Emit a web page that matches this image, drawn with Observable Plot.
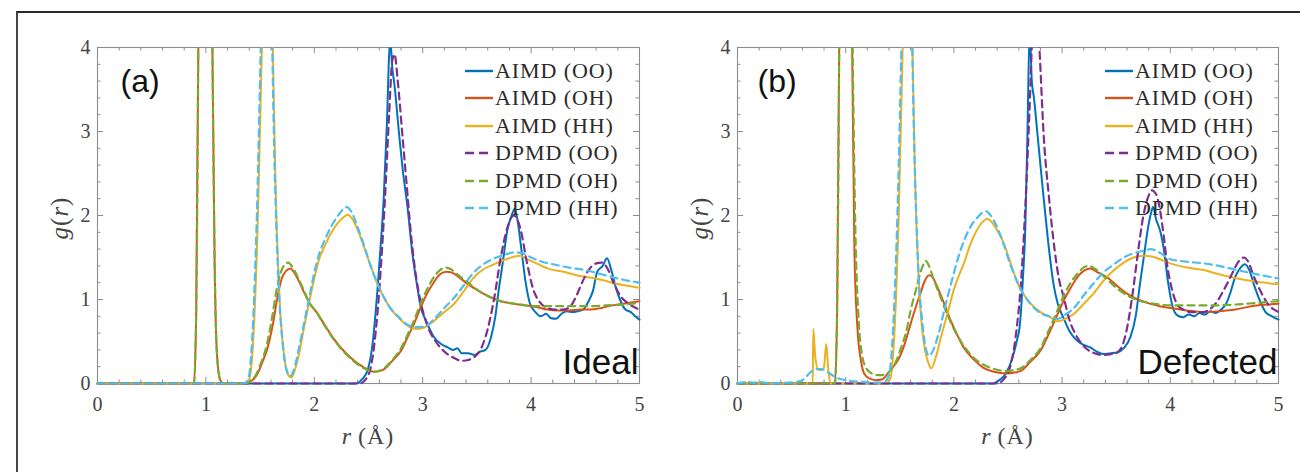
<!DOCTYPE html>
<html><head><meta charset="utf-8">
<script src="https://cdn.jsdelivr.net/npm/d3@7"></script>
<script src="https://cdn.jsdelivr.net/npm/@observablehq/plot@0.6"></script>
<style>
body{margin:0;background:#fff;}
#wrap{position:relative;width:1300px;height:472px;overflow:hidden;background:#fff;}
.border{position:absolute;left:16px;top:11px;width:1400px;height:600px;border-top:2px solid #2a2a2a;border-left:2px solid #454545;}
.panel{position:absolute;top:0;}
.legend{position:absolute;font-family:"Liberation Serif",serif;font-size:22px;color:#2a2a2a;letter-spacing:0.9px;}
.legend .row{position:absolute;left:0;white-space:nowrap;height:28px;display:flex;align-items:center;}
.legend svg{margin-right:2px;}
.xlab{position:absolute;font-family:"Liberation Serif",serif;font-size:24px;color:#444;letter-spacing:1px;transform:translate(-50%,0);white-space:nowrap;}
.ylab{position:absolute;font-family:"Liberation Serif",serif;font-size:25px;color:#444;letter-spacing:1px;transform:translate(-50%,-50%) rotate(-90deg);white-space:nowrap;}
</style>
</head><body>
<div id="wrap"><div class="border"></div></div>
<script>
// ---- ticks ----
const xMajor = [0, 1, 2, 3, 4, 5];
const yMajor = [0, 1, 2, 3, 4];
const xMinor = [0.2,0.4,0.6,0.8,1.2,1.4,1.6,1.8,2.2,2.4,2.6,2.8,3.2,3.4,3.6,3.8,4.2,4.4,4.6,4.8];
const yMinor = [0.2,0.4,0.6,0.8,1.2,1.4,1.6,1.8,2.2,2.4,2.6,2.8,3.2,3.4,3.6,3.8];

// ---- series meta ----
const seriesNames  = ["AIMD (OO)","AIMD (OH)","AIMD (HH)","DPMD (OO)","DPMD (OH)","DPMD (HH)"];
const seriesColors = ["#0072BD","#D95319","#EDB120","#7E2F8E","#77AC30","#4DBEEE"];
const seriesDash   = [null,null,null,"7,5","7,5","7,5"];
const panelLabels  = ["(a)","(b)"];
const panelTags    = ["Ideal","Defected"];

// ---- panel (a) Ideal : [r, g(r)] ----
const idealAimdOO = [[0,0],[2.38,0],[2.44,0.05],[2.49,0.15],[2.54,0.5],[2.58,1.07],[2.61,1.6],[2.64,2.2],[2.67,3.1],[2.69,3.9],[2.70,4.1],[2.72,3.75],[2.74,3.55],[2.78,3.0],[2.82,2.5],[2.86,2.1],[2.90,1.6],[2.95,1.15],[2.98,0.92],[3.03,0.75],[3.10,0.56],[3.17,0.47],[3.23,0.43],[3.28,0.40],[3.32,0.42],[3.36,0.36],[3.42,0.36],[3.48,0.34],[3.53,0.38],[3.58,0.40],[3.63,0.55],[3.67,0.80],[3.70,1.10],[3.74,1.45],[3.78,1.82],[3.82,2.0],[3.85,2.08],[3.88,1.9],[3.91,1.6],[3.95,1.2],[3.99,0.95],[4.04,0.85],[4.09,0.80],[4.14,0.83],[4.18,0.78],[4.23,0.77],[4.28,0.83],[4.33,0.86],[4.38,0.85],[4.43,0.86],[4.48,0.88],[4.53,0.98],[4.57,1.10],[4.61,1.33],[4.66,1.40],[4.70,1.49],[4.74,1.35],[4.78,1.15],[4.82,1.0],[4.87,0.88],[4.92,0.85],[4.96,0.80],[5.0,0.76]];
const idealAimdOH = [[0,0],[0.89,0],[0.91,0.8],[0.93,4],[0.96,12],[1.0,14],[1.03,9],[1.06,4],[1.08,1.5],[1.10,0.4],[1.13,0.05],[1.16,0],[1.38,0],[1.42,0.03],[1.47,0.10],[1.52,0.25],[1.57,0.43],[1.62,0.72],[1.66,1.03],[1.70,1.25],[1.74,1.34],[1.78,1.37],[1.81,1.33],[1.85,1.24],[1.90,1.10],[1.96,0.95],[2.02,0.85],[2.09,0.71],[2.17,0.55],[2.27,0.39],[2.36,0.28],[2.46,0.19],[2.55,0.14],[2.63,0.16],[2.72,0.27],[2.80,0.39],[2.86,0.55],[2.92,0.71],[2.98,0.90],[3.04,1.07],[3.10,1.20],[3.16,1.30],[3.22,1.33],[3.27,1.32],[3.33,1.27],[3.42,1.18],[3.52,1.10],[3.62,1.03],[3.72,0.98],[3.84,0.95],[3.95,0.93],[4.05,0.91],[4.15,0.88],[4.25,0.87],[4.35,0.87],[4.45,0.88],[4.55,0.88],[4.65,0.90],[4.75,0.93],[4.85,0.95],[5.0,0.98]];
const idealAimdHH = [[0,0],[1.36,0],[1.40,0.05],[1.44,0.6],[1.48,2.0],[1.52,4.2],[1.57,6.5],[1.61,4.5],[1.64,2.5],[1.68,1.0],[1.72,0.35],[1.76,0.10],[1.79,0.07],[1.83,0.20],[1.87,0.42],[1.90,0.63],[1.95,0.95],[2.0,1.25],[2.05,1.50],[2.09,1.62],[2.15,1.78],[2.21,1.90],[2.27,1.98],[2.31,2.01],[2.35,1.96],[2.41,1.80],[2.46,1.62],[2.52,1.40],[2.58,1.19],[2.64,1.03],[2.70,0.90],[2.78,0.78],[2.86,0.69],[2.95,0.65],[3.02,0.67],[3.10,0.74],[3.20,0.85],[3.29,0.95],[3.38,1.10],[3.47,1.26],[3.56,1.36],[3.66,1.42],[3.75,1.47],[3.84,1.51],[3.90,1.52],[3.96,1.48],[4.05,1.43],[4.15,1.37],[4.30,1.33],[4.45,1.28],[4.60,1.25],[4.75,1.20],[4.90,1.16],[5.0,1.14]];
const idealDpmdOO = [[0,0],[2.42,0],[2.48,0.06],[2.53,0.25],[2.58,0.8],[2.62,1.5],[2.66,2.4],[2.69,3.2],[2.72,3.85],[2.74,3.92],[2.77,3.6],[2.81,3.0],[2.85,2.4],[2.89,1.8],[2.93,1.35],[2.98,0.98],[3.04,0.70],[3.12,0.50],[3.20,0.38],[3.28,0.31],[3.36,0.27],[3.42,0.28],[3.48,0.32],[3.54,0.42],[3.60,0.65],[3.66,1.02],[3.72,1.5],[3.78,1.85],[3.84,2.0],[3.90,1.85],[3.96,1.45],[4.02,1.12],[4.08,0.97],[4.15,0.90],[4.22,0.88],[4.30,0.88],[4.37,0.93],[4.42,1.05],[4.47,1.20],[4.53,1.35],[4.60,1.43],[4.65,1.44],[4.70,1.38],[4.76,1.20],[4.82,1.05],[4.90,0.95],[5.0,0.88]];
const idealDpmdOH = [[0,0],[0.89,0],[0.91,0.8],[0.93,4],[0.96,12],[1.0,14],[1.03,9],[1.06,4],[1.08,1.5],[1.10,0.4],[1.13,0.05],[1.16,0],[1.37,0],[1.41,0.03],[1.46,0.10],[1.51,0.25],[1.56,0.45],[1.61,0.78],[1.65,1.10],[1.69,1.32],[1.73,1.42],[1.76,1.44],[1.80,1.38],[1.85,1.26],[1.90,1.12],[1.96,0.95],[2.02,0.85],[2.09,0.70],[2.17,0.54],[2.27,0.38],[2.36,0.27],[2.46,0.18],[2.55,0.14],[2.63,0.17],[2.72,0.28],[2.80,0.42],[2.86,0.58],[2.92,0.75],[2.98,0.95],[3.04,1.12],[3.10,1.26],[3.16,1.35],[3.21,1.38],[3.26,1.36],[3.32,1.30],[3.42,1.20],[3.52,1.10],[3.62,1.03],[3.72,0.98],[3.84,0.95],[3.95,0.93],[4.10,0.92],[4.30,0.92],[4.50,0.92],[4.70,0.93],[4.85,0.94],[5.0,0.96]];
const idealDpmdHH = [[0,0],[1.35,0],[1.39,0.05],[1.43,0.6],[1.47,2.0],[1.51,4.2],[1.56,6.5],[1.60,4.8],[1.63,2.8],[1.67,1.2],[1.71,0.45],[1.75,0.14],[1.78,0.09],[1.82,0.20],[1.86,0.43],[1.90,0.68],[1.95,1.0],[2.0,1.32],[2.05,1.56],[2.10,1.72],[2.16,1.88],[2.22,2.0],[2.27,2.08],[2.30,2.10],[2.34,2.05],[2.40,1.86],[2.46,1.64],[2.52,1.40],[2.58,1.20],[2.64,1.03],[2.70,0.90],[2.78,0.79],[2.86,0.70],[2.95,0.67],[3.02,0.68],[3.10,0.76],[3.20,0.90],[3.29,1.02],[3.38,1.17],[3.47,1.32],[3.56,1.42],[3.66,1.49],[3.75,1.53],[3.84,1.56],[3.92,1.55],[4.0,1.50],[4.10,1.45],[4.20,1.42],[4.35,1.38],[4.50,1.35],[4.65,1.30],[4.80,1.25],[5.0,1.20]];

// ---- panel (b) Defected : [r, g(r)] ----
const defAimdOO = [[0,0],[2.36,0],[2.42,0.04],[2.48,0.12],[2.54,0.30],[2.58,0.50],[2.61,0.70],[2.64,1.3],[2.66,1.85],[2.68,3.0],[2.70,4.2],[2.72,3.6],[2.74,3.4],[2.77,3.0],[2.80,2.6],[2.83,2.2],[2.87,1.7],[2.92,1.19],[2.96,0.95],[3.01,0.79],[3.07,0.62],[3.14,0.51],[3.20,0.46],[3.26,0.43],[3.32,0.38],[3.38,0.35],[3.45,0.36],[3.51,0.37],[3.57,0.42],[3.63,0.55],[3.68,0.80],[3.72,1.19],[3.76,1.55],[3.79,1.82],[3.82,2.02],[3.84,2.10],[3.87,1.95],[3.91,1.80],[3.94,1.60],[3.98,1.20],[4.03,0.88],[4.08,0.80],[4.12,0.79],[4.17,0.82],[4.22,0.80],[4.27,0.84],[4.32,0.82],[4.37,0.86],[4.42,0.84],[4.47,0.88],[4.52,0.96],[4.56,1.10],[4.60,1.27],[4.65,1.38],[4.69,1.42],[4.73,1.35],[4.78,1.15],[4.83,0.98],[4.88,0.85],[4.94,0.80],[5.0,0.76]];
const defAimdOH = [[0,0],[0.90,0],[0.92,0.8],[0.94,4],[0.97,12],[1.0,14],[1.03,9],[1.06,4],[1.08,1.6],[1.11,0.63],[1.14,0.28],[1.17,0.12],[1.22,0.06],[1.28,0.04],[1.34,0.05],[1.39,0.12],[1.44,0.20],[1.48,0.27],[1.54,0.45],[1.60,0.71],[1.65,0.92],[1.69,1.07],[1.73,1.22],[1.77,1.29],[1.80,1.27],[1.85,1.14],[1.91,0.95],[1.97,0.75],[2.03,0.58],[2.09,0.43],[2.18,0.29],[2.27,0.19],[2.37,0.14],[2.49,0.12],[2.56,0.13],[2.62,0.15],[2.70,0.25],[2.80,0.39],[2.88,0.60],[2.96,0.83],[3.02,1.0],[3.08,1.14],[3.15,1.28],[3.21,1.35],[3.26,1.37],[3.32,1.33],[3.42,1.26],[3.51,1.16],[3.60,1.07],[3.70,1.0],[3.79,0.96],[3.90,0.92],[4.0,0.90],[4.15,0.87],[4.31,0.85],[4.45,0.86],[4.60,0.88],[4.75,0.92],[4.90,0.94],[5.0,0.95]];
const defAimdHH = [[0,0],[0.695,0],[0.70,0.65],[0.72,0.30],[0.75,0.16],[0.78,0.16],[0.80,0.20],[0.82,0.47],[0.84,0.15],[0.86,0],[1.37,0],[1.41,0.05],[1.45,0.6],[1.49,2.0],[1.53,4.2],[1.57,6.5],[1.61,4.5],[1.64,2.5],[1.68,1.1],[1.72,0.5],[1.76,0.26],[1.79,0.18],[1.83,0.30],[1.88,0.55],[1.94,0.83],[2.0,1.12],[2.05,1.30],[2.09,1.42],[2.15,1.65],[2.21,1.82],[2.27,1.93],[2.31,1.96],[2.35,1.92],[2.41,1.80],[2.46,1.67],[2.52,1.45],[2.59,1.19],[2.65,1.05],[2.71,0.95],[2.80,0.85],[2.89,0.79],[2.96,0.74],[3.03,0.77],[3.11,0.83],[3.20,0.95],[3.29,1.07],[3.38,1.22],[3.48,1.35],[3.57,1.44],[3.66,1.50],[3.75,1.52],[3.84,1.51],[3.92,1.47],[4.0,1.43],[4.15,1.38],[4.31,1.35],[4.45,1.30],[4.62,1.25],[4.80,1.21],[5.0,1.18]];
const defDpmdOO = [[0,0],[2.40,0],[2.46,0.05],[2.52,0.20],[2.57,0.55],[2.62,1.2],[2.66,2.1],[2.70,3.3],[2.73,4.3],[2.76,4.6],[2.79,4.0],[2.83,2.95],[2.88,2.2],[2.93,1.6],[2.97,1.25],[3.01,1.05],[3.07,0.75],[3.14,0.55],[3.22,0.42],[3.30,0.36],[3.38,0.34],[3.45,0.35],[3.51,0.37],[3.57,0.50],[3.62,0.80],[3.66,1.15],[3.70,1.55],[3.75,1.99],[3.79,2.20],[3.83,2.30],[3.87,2.25],[3.90,2.10],[3.94,1.75],[3.97,1.42],[4.01,1.15],[4.06,0.95],[4.12,0.88],[4.20,0.85],[4.30,0.85],[4.38,0.90],[4.43,0.97],[4.48,1.08],[4.53,1.20],[4.58,1.33],[4.63,1.45],[4.68,1.50],[4.72,1.45],[4.77,1.28],[4.83,1.11],[4.90,0.95],[5.0,0.85]];
const defDpmdOH = [[0,0],[0.90,0],[0.92,0.8],[0.94,4],[0.97,12],[1.0,14],[1.03,9],[1.06,4.5],[1.09,1.8],[1.12,0.75],[1.15,0.35],[1.19,0.18],[1.24,0.12],[1.30,0.10],[1.36,0.10],[1.41,0.15],[1.46,0.25],[1.51,0.42],[1.56,0.62],[1.60,0.87],[1.65,1.12],[1.69,1.32],[1.72,1.42],[1.74,1.46],[1.77,1.40],[1.81,1.25],[1.87,1.05],[1.93,0.85],[2.0,0.65],[2.08,0.47],[2.18,0.31],[2.28,0.22],[2.38,0.17],[2.48,0.15],[2.56,0.16],[2.63,0.19],[2.70,0.27],[2.80,0.42],[2.88,0.64],[2.96,0.88],[3.02,1.06],[3.08,1.20],[3.15,1.32],[3.21,1.39],[3.25,1.40],[3.31,1.36],[3.40,1.26],[3.50,1.14],[3.60,1.05],[3.70,0.99],[3.80,0.96],[3.90,0.94],[4.0,0.93],[4.20,0.93],[4.40,0.93],[4.60,0.94],[4.80,0.96],[5.0,0.98]];
const defDpmdHH = [[0,0],[0.10,0.02],[0.15,0.01],[0.20,0.02],[0.30,0.0],[0.45,0.01],[0.55,0.02],[0.62,0.06],[0.67,0.13],[0.72,0.17],[0.78,0.17],[0.84,0.13],[0.90,0.08],[0.96,0.05],[1.05,0.03],[1.15,0.02],[1.30,0.01],[1.36,0.02],[1.40,0.10],[1.44,0.7],[1.48,2.1],[1.52,4.3],[1.56,6.5],[1.60,5.0],[1.63,3.0],[1.67,1.4],[1.71,0.70],[1.74,0.42],[1.77,0.33],[1.81,0.40],[1.86,0.60],[1.92,0.92],[1.98,1.22],[2.04,1.50],[2.10,1.72],[2.16,1.88],[2.22,1.98],[2.27,2.04],[2.30,2.05],[2.34,2.0],[2.40,1.86],[2.46,1.66],[2.52,1.42],[2.59,1.20],[2.65,1.05],[2.72,0.93],[2.80,0.84],[2.88,0.80],[2.96,0.77],[3.03,0.82],[3.11,0.90],[3.20,1.05],[3.29,1.19],[3.38,1.32],[3.48,1.42],[3.57,1.50],[3.66,1.55],[3.75,1.58],[3.82,1.60],[3.90,1.56],[4.0,1.48],[4.15,1.45],[4.31,1.43],[4.45,1.40],[4.62,1.35],[4.80,1.30],[5.0,1.25]];

const panels = [
  {series:[idealAimdOO,idealAimdOH,idealAimdHH,idealDpmdOO,idealDpmdOH,idealDpmdHH], left:0, ml:97, mr:11, labDx:23},
  {series:[defAimdOO,defAimdOH,defAimdHH,defDpmdOO,defDpmdOH,defDpmdHH], left:650, ml:87, mr:22, labDx:20}
];

const W = 650, H = 472, MT = 47, MB = 89;
const wrap = document.getElementById("wrap");
const ns = "http://www.w3.org/2000/svg";

panels.forEach((p, pi) => {
  const pw = W - p.ml - p.mr, ph = H - MT - MB;
  const tickColor = "#8c8c8c";
  const marks = [
    Plot.frame({stroke: tickColor, strokeWidth: 1.1}),
    Plot.tickX(xMajor, {x: d => d, stroke: tickColor, insetTop: ph - 6}),
    Plot.tickX(xMajor, {x: d => d, stroke: tickColor, insetBottom: ph - 6}),
    Plot.tickX(xMinor, {x: d => d, stroke: tickColor, insetTop: ph - 3.5}),
    Plot.tickX(xMinor, {x: d => d, stroke: tickColor, insetBottom: ph - 3.5}),
    Plot.tickY(yMajor, {y: d => d, stroke: tickColor, insetRight: pw - 6}),
    Plot.tickY(yMajor, {y: d => d, stroke: tickColor, insetLeft: pw - 6}),
    Plot.tickY(yMinor, {y: d => d, stroke: tickColor, insetRight: pw - 3.5}),
    Plot.tickY(yMinor, {y: d => d, stroke: tickColor, insetLeft: pw - 3.5}),
    Plot.axisX({ticks: xMajor, tickSize: 0, tickPadding: 13, label: null, tickFormat: d => String(d)}),
    Plot.axisY({ticks: yMajor, tickSize: 0, tickPadding: 7, label: null, tickFormat: d => String(d)}),
  ];
  p.series.forEach((s, i) => {
    marks.push(Plot.line(s, {
      x: d => d[0], y: d => d[1], stroke: seriesColors[i], strokeWidth: seriesDash[i] ? 2.2 : 2,
      strokeDasharray: seriesDash[i] || undefined, curve: "monotone-x"
    }));
  });
  marks.push(Plot.text([panelLabels[pi]], {text: d => d, frameAnchor: "top-left", textAnchor: "start", lineAnchor: "top",
    dx: p.labDx, dy: 22, fontFamily: "Liberation Sans, Arial, sans-serif", fontSize: 32, fill: "#111"}));
  marks.push(Plot.text([panelTags[pi]], {text: d => d, frameAnchor: "bottom-right", textAnchor: "end", lineAnchor: "bottom",
    dx: -1, dy: -10, fontFamily: "Liberation Sans, Arial, sans-serif", fontSize: 35, fill: "#111"}));

  const svg = Plot.plot({
    width: W, height: H, marginTop: MT, marginBottom: MB, marginLeft: p.ml, marginRight: p.mr,
    x: {domain: [0, 5]}, y: {domain: [0, 4]},
    style: {fontFamily: "Liberation Serif, serif", fontSize: "20px", color: "#444", background: "transparent"},
    marks
  });
  const defs = document.createElementNS(ns, "defs");
  const cp = document.createElementNS(ns, "clipPath");
  cp.setAttribute("id", "clip" + pi);
  const r = document.createElementNS(ns, "rect");
  r.setAttribute("x", p.ml - 2); r.setAttribute("y", MT);
  r.setAttribute("width", pw + 4); r.setAttribute("height", ph + 2);
  cp.appendChild(r); defs.appendChild(cp); svg.insertBefore(defs, svg.firstChild);
  svg.querySelectorAll('g[aria-label="line"]').forEach(g => g.setAttribute("clip-path", `url(#clip${pi})`));

  const holder = document.createElement("div");
  holder.className = "panel"; holder.style.left = p.left + "px";
  holder.appendChild(svg); wrap.appendChild(holder);

  const xl = document.createElement("div");
  xl.className = "xlab"; xl.innerHTML = "<i>r</i>&#8201;(Å)";
  xl.style.left = (p.left + p.ml + pw / 2) + "px"; xl.style.top = "423px";
  wrap.appendChild(xl);
  const yl = document.createElement("div");
  yl.className = "ylab"; yl.innerHTML = "<i>g</i>(<i>r</i>)";
  yl.style.left = (p.left + p.ml - 37) + "px"; yl.style.top = "218px";
  wrap.appendChild(yl);

  const lg = document.createElement("div");
  lg.className = "legend";
  lg.style.left = (p.left + p.ml + 368) + "px"; lg.style.top = "57px";
  seriesNames.forEach((name, i) => {
    const row = document.createElement("div");
    row.className = "row"; row.style.top = (i * 27.4) + "px";
    const dash = seriesDash[i] ? `stroke-dasharray="9,5"` : "";
    row.innerHTML = `<svg width="28" height="6"><line x1="0" y1="3" x2="28" y2="3" stroke="${seriesColors[i]}" stroke-width="2.4" ${dash}/></svg><span>${name}</span>`;
    lg.appendChild(row);
  });
  wrap.appendChild(lg);
});
</script>
</body></html>
